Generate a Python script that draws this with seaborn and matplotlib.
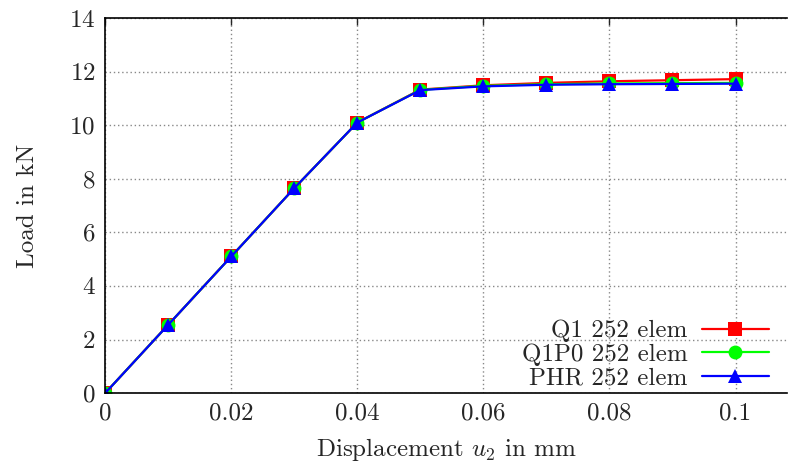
import numpy as np
import pandas as pd
import seaborn as sns
import matplotlib.pyplot as plt

# displacement steps
displacement = [0.0, 0.01, 0.02, 0.03, 0.04, 0.05, 0.06, 0.07, 0.08, 0.09, 0.1]

# load values per element type
load_q1 = [0.0, 2.55, 5.1, 7.65, 10.1, 11.33, 11.49, 11.58, 11.64, 11.68, 11.72]
load_q1p0 = [0.0, 2.55, 5.1, 7.65, 10.1, 11.32, 11.47, 11.53, 11.56, 11.57, 11.58]
load_phr = [0.0, 2.55, 5.1, 7.65, 10.1, 11.31, 11.45, 11.51, 11.53, 11.54, 11.55]

series_labels = ["Q1 252 elem", "Q1P0 252 elem", "PHR 252 elem"]
series_colors = ["#ff0000", "#00ff00", "#0000ff"]
series_markers = ["s", "o", "^"]
x_ticks = [0, 0.02, 0.04, 0.06, 0.08, 0.1]
x_tick_labels = ["0", "0.02", "0.04", "0.06", "0.08", "0.1"]
y_ticks = [0, 2, 4, 6, 8, 10, 12, 14]

df = pd.DataFrame({
    "u2": displacement * 3,
    "load": load_q1 + load_q1p0 + load_phr,
    "series": np.repeat(series_labels, len(displacement)),
})

sns.set_style("white")
plt.rcParams["font.family"] = ["cmr10", "DejaVu Serif"]
plt.rcParams["mathtext.fontset"] = "cm"
plt.rcParams["axes.formatter.use_mathtext"] = True

fig = plt.figure(figsize=(7.88, 4.63), dpi=100)
ax = fig.add_axes([0.1335, 0.151, 0.8655, 0.810])

sns.lineplot(
    data=df, x="u2", y="load", hue="series", style="series",
    hue_order=series_labels, style_order=series_labels,
    palette=series_colors, markers=series_markers, dashes=False,
    markersize=10, linewidth=1.6, markeredgewidth=0, ax=ax,
)

ax.set_xlim(0, 0.1082)
ax.set_ylim(0, 14)
ax.set_xticks(x_ticks)
ax.set_xticklabels(x_tick_labels)
ax.set_yticks(y_ticks)
ax.grid(True, color="#888888", linestyle=(0, (1, 2)), linewidth=1.0)
ax.tick_params(direction="in", length=5, width=1, top=True, right=False,
               labelsize=18, pad=7)
for s in ax.spines.values():
    s.set_linewidth(1.2)
    s.set_color("black")
ax.spines["right"].set_visible(False)

ax.set_xlabel("Displacement $u_2$ in mm", fontsize=18, labelpad=8)
ax.set_ylabel("Load in kN", fontsize=18, labelpad=22)

leg = ax.legend(loc="lower right", markerfirst=False, frameon=False,
                fontsize=18, handlelength=2.7, handletextpad=0.55,
                labelspacing=0.05, borderaxespad=0.0,
                bbox_to_anchor=(0.988, -0.018))

plt.savefig("out.png", dpi=100)
